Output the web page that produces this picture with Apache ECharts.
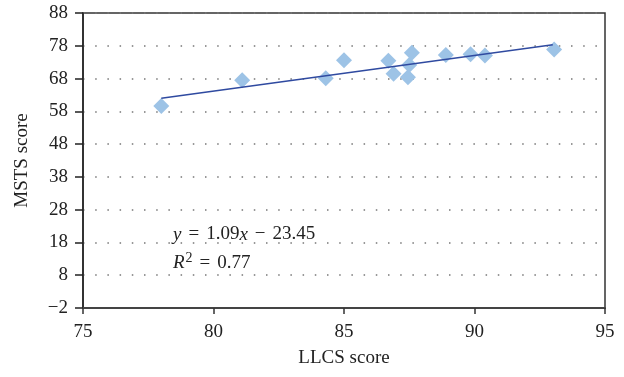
<!DOCTYPE html>
<html>
<head>
<meta charset="utf-8">
<script src="https://cdn.jsdelivr.net/npm/echarts@6/dist/echarts.min.js"></script>
<style>
  html, body { margin: 0; padding: 0; background: #fff; }
  #chart { width: 624px; height: 377px; }
</style>
</head>
<body>
<div id="chart"></div>
<script>
// LLCS score vs MSTS score
const llcs = [78.0, 81.1, 84.3, 85.0, 86.7, 86.9, 87.45, 87.5, 87.6, 88.9, 89.85, 90.4, 93.05]
const msts = [59.6, 67.5, 68.1, 73.6, 73.4, 69.5, 68.4, 72.1, 75.9, 75.2, 75.4, 75.0, 76.9]

// fitted line, read at its two ends
const trendX = [78, 93]
const trendY = [62.0, 78.3]

const xTicks = { min: 75, max: 95, step: 5 }
const yTicks = { min: -2, max: 88, step: 10 }

const font = '"Liberation Serif", "DejaVu Serif", serif'

const chart = echarts.init(document.getElementById('chart'), null, { renderer: 'canvas' })

const txt = { fontFamily: font, fontSize: 19, fill: '#222' }

const option = {
  backgroundColor: '#fff',
  animation: false,
  grid: {
    left: 83,
    right: 19,
    top: 13,
    bottom: 69,
    show: true,
    borderColor: '#333',
    borderWidth: 1.5
  },
  xAxis: {
    type: 'value',
    min: xTicks.min,
    max: xTicks.max,
    interval: xTicks.step,
    name: 'LLCS score',
    nameLocation: 'middle',
    nameGap: 41,
    nameTextStyle: { color: '#222', fontFamily: font, fontSize: 19 },
    axisLine: { show: true, onZero: false, lineStyle: { color: '#444', width: 2 } },
    axisTick: { show: true, length: 6, lineStyle: { color: '#333', width: 1.5 } },
    axisLabel: { color: '#222', fontFamily: font, fontSize: 19, margin: 15 },
    splitLine: { show: false }
  },
  yAxis: {
    type: 'value',
    min: yTicks.min,
    max: yTicks.max,
    interval: yTicks.step,
    name: 'MSTS score',
    nameLocation: 'middle',
    nameGap: 51,
    nameTextStyle: { color: '#222', fontFamily: font, fontSize: 19 },
    axisLine: { show: true, onZero: false, lineStyle: { color: '#222', width: 1.5 } },
    axisTick: { show: true, length: 8, lineStyle: { color: '#222', width: 1.5 } },
    axisLabel: {
      color: '#222', fontFamily: font, fontSize: 19, margin: 15,
      formatter: v => String(v).replace('-', '\u2212')
    },
    splitLine: {
      show: true,
      lineStyle: { color: '#777', width: 1.5, type: [1.5, 10.7] }
    }
  },
  graphic: [
    {
      type: 'text',
      left: 173,
      top: 225,
      style: {
        text: '{i|y}{o|=}1.09{i|x}{o|−}23.45',
        font: '19px ' + font,
        fill: '#222',
        rich: {
          i: { ...txt, fontStyle: 'italic' },
          o: { ...txt, padding: [0, 7, 0, 7] }
        }
      }
    },
    {
      type: 'text',
      left: 173,
      top: 251,
      style: {
        text: '{i|R}{s|2}{o|=}0.77',
        font: '19px ' + font,
        fill: '#222',
        rich: {
          i: { ...txt, fontStyle: 'italic' },
          s: { fontFamily: font, fontSize: 14, fill: '#222', verticalAlign: 'top', padding: [0, 0, 10, 1] },
          o: { ...txt, padding: [0, 7, 0, 7] }
        }
      }
    }
  ],
  series: [
    {
      type: 'line',
      data: trendX.map((x, i) => [x, trendY[i]]),
      symbol: 'none',
      lineStyle: { color: '#2f4aa0', width: 1.5 },
      z: 3
    },
    {
      type: 'scatter',
      data: llcs.map((x, i) => [x, msts[i]]),
      symbol: 'diamond',
      symbolSize: [16, 16],
      itemStyle: { color: '#9dc3e6', opacity: 1 },
      z: 2
    }
  ]
}

chart.setOption(option)
</script>
</body>
</html>
